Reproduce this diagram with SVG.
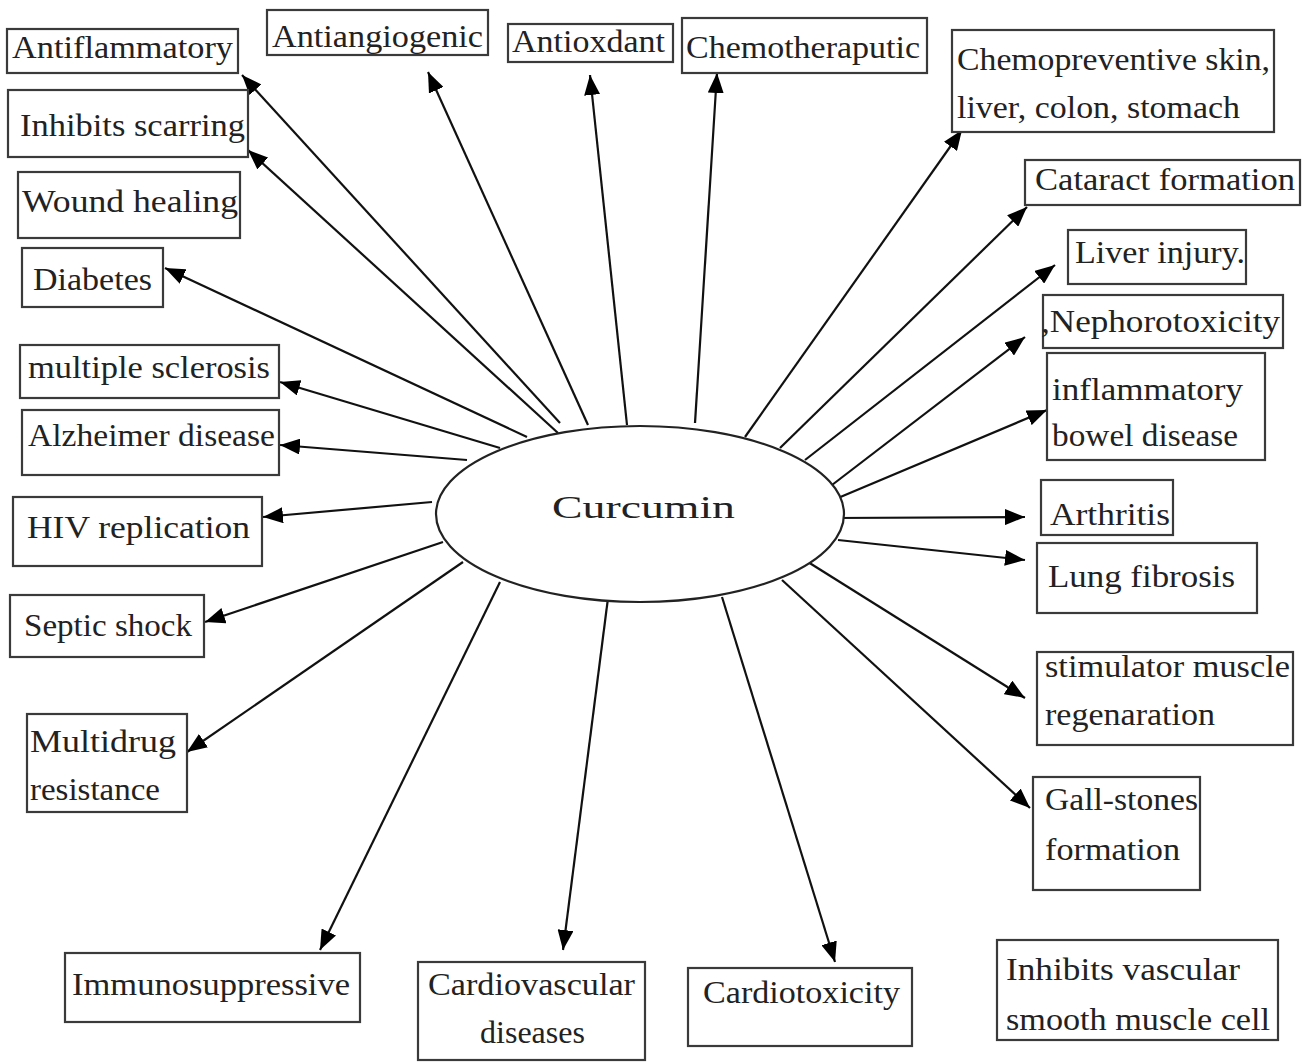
<svg xmlns="http://www.w3.org/2000/svg" width="1304" height="1063" viewBox="0 0 1304 1063">
<style>
.box{fill:#fff;stroke:#3a3a3a;stroke-width:2.2}
.t{font-family:"Liberation Serif","DejaVu Serif",serif;font-size:31px;fill:#222}
.c{stroke:#111;stroke-width:2.2;fill:none;marker-end:url(#ah)}
</style>
<defs>
<marker id="ah" markerUnits="userSpaceOnUse" markerWidth="20" markerHeight="16" refX="20" refY="8" orient="auto">
<path d="M0,0 L20,8 L0,16 z" fill="#000"/>
</marker>
</defs>
<rect width="1304" height="1063" fill="#fff"/>
<g id="connectors">
<line class="c" x1="560" y1="423" x2="242" y2="75"/>
<line class="c" x1="558" y1="433" x2="248" y2="150"/>
<line class="c" x1="588" y1="425" x2="428" y2="72"/>
<line class="c" x1="627" y1="425" x2="590" y2="75"/>
<line class="c" x1="695" y1="423" x2="717" y2="73"/>
<line class="c" x1="745" y1="437" x2="962" y2="130"/>
<line class="c" x1="780" y1="448" x2="1027" y2="207"/>
<line class="c" x1="805" y1="460" x2="1055" y2="265"/>
<line class="c" x1="832" y1="485" x2="1025" y2="337"/>
<line class="c" x1="838" y1="498" x2="1047" y2="410"/>
<line class="c" x1="833" y1="518" x2="1025" y2="517"/>
<line class="c" x1="838" y1="540" x2="1025" y2="560"/>
<line class="c" x1="808" y1="562" x2="1025" y2="698"/>
<line class="c" x1="782" y1="580" x2="1030" y2="808"/>
<line class="c" x1="722" y1="597" x2="835" y2="962"/>
<line class="c" x1="608" y1="598" x2="563" y2="950"/>
<line class="c" x1="500" y1="582" x2="320" y2="950"/>
<line class="c" x1="463" y1="562" x2="187" y2="752"/>
<line class="c" x1="443" y1="542" x2="205" y2="622"/>
<line class="c" x1="432" y1="502" x2="263" y2="517"/>
<line class="c" x1="467" y1="460" x2="280" y2="445"/>
<line class="c" x1="500" y1="448" x2="280" y2="382"/>
<line class="c" x1="527" y1="437" x2="165" y2="268"/>
</g>
<g id="curcumin">
<ellipse cx="640" cy="514" rx="204" ry="88" fill="#fff" stroke="#222" stroke-width="2.2"/>
<text class="t" x="552" y="518" font-size="41" textLength="183" lengthAdjust="spacingAndGlyphs">Curcumin</text>
</g>
<g id="antiflammatory"><rect class="box" x="7" y="29" width="231" height="44"/><text class="t" x="12" y="58" textLength="221" lengthAdjust="spacingAndGlyphs">Antiflammatory</text></g>
<g id="inhibits-scarring"><rect class="box" x="8" y="90" width="240" height="67"/><text class="t" x="20" y="136" textLength="225" lengthAdjust="spacingAndGlyphs">Inhibits scarring</text></g>
<g id="wound-healing"><rect class="box" x="18" y="172" width="222" height="66"/><text class="t" x="22" y="212" textLength="216" lengthAdjust="spacingAndGlyphs">Wound healing</text></g>
<g id="diabetes"><rect class="box" x="22" y="248" width="141" height="59"/><text class="t" x="33" y="290" textLength="119" lengthAdjust="spacingAndGlyphs">Diabetes</text></g>
<g id="multiple-sclerosis"><rect class="box" x="20" y="345" width="259" height="53"/><text class="t" x="28" y="378" textLength="242" lengthAdjust="spacingAndGlyphs">multiple sclerosis</text></g>
<g id="alzheimer"><rect class="box" x="22" y="410" width="257" height="65"/><text class="t" x="28" y="446" textLength="247" lengthAdjust="spacingAndGlyphs">Alzheimer disease</text></g>
<g id="hiv"><rect class="box" x="13" y="497" width="249" height="69"/><text class="t" x="27" y="538" textLength="223" lengthAdjust="spacingAndGlyphs">HIV replication</text></g>
<g id="septic-shock"><rect class="box" x="10" y="595" width="194" height="62"/><text class="t" x="24" y="636" textLength="168" lengthAdjust="spacingAndGlyphs">Septic shock</text></g>
<g id="multidrug"><rect class="box" x="27" y="714" width="160" height="98"/><text class="t" x="30" y="752" textLength="146" lengthAdjust="spacingAndGlyphs">Multidrug</text><text class="t" x="30" y="800" textLength="130" lengthAdjust="spacingAndGlyphs">resistance</text></g>
<g id="immunosuppressive"><rect class="box" x="65" y="953" width="295" height="69"/><text class="t" x="72" y="995" textLength="278" lengthAdjust="spacingAndGlyphs">Immunosuppressive</text></g>
<g id="cardiovascular"><rect class="box" x="418" y="962" width="227" height="98"/><text class="t" x="428" y="995" textLength="207" lengthAdjust="spacingAndGlyphs">Cardiovascular</text><text class="t" x="480" y="1043" textLength="105" lengthAdjust="spacingAndGlyphs">diseases</text></g>
<g id="cardiotoxicity"><rect class="box" x="688" y="968" width="224" height="78"/><text class="t" x="703" y="1003" textLength="197" lengthAdjust="spacingAndGlyphs">Cardiotoxicity</text></g>
<g id="vascular"><rect class="box" x="997" y="940" width="281" height="100"/><text class="t" x="1006" y="980" textLength="234" lengthAdjust="spacingAndGlyphs">Inhibits vascular</text><text class="t" x="1006" y="1030" textLength="264" lengthAdjust="spacingAndGlyphs">smooth muscle cell</text></g>
<g id="gall-stones"><rect class="box" x="1033" y="777" width="167" height="113"/><text class="t" x="1045" y="810" textLength="153" lengthAdjust="spacingAndGlyphs">Gall-stones</text><text class="t" x="1045" y="860" textLength="135" lengthAdjust="spacingAndGlyphs">formation</text></g>
<g id="muscle-regeneration"><rect class="box" x="1037" y="652" width="256" height="93"/><text class="t" x="1045" y="677" textLength="245" lengthAdjust="spacingAndGlyphs">stimulator muscle</text><text class="t" x="1045" y="725" textLength="170" lengthAdjust="spacingAndGlyphs">regenaration</text></g>
<g id="lung-fibrosis"><rect class="box" x="1037" y="543" width="220" height="70"/><text class="t" x="1048" y="587" textLength="187" lengthAdjust="spacingAndGlyphs">Lung fibrosis</text></g>
<g id="arthritis"><rect class="box" x="1041" y="480" width="132" height="55"/><text class="t" x="1050" y="525" textLength="120" lengthAdjust="spacingAndGlyphs">Arthritis</text></g>
<g id="ibd"><rect class="box" x="1047" y="353" width="218" height="107"/><text class="t" x="1052" y="400" textLength="191" lengthAdjust="spacingAndGlyphs">inflammatory</text><text class="t" x="1052" y="446" textLength="186" lengthAdjust="spacingAndGlyphs">bowel disease</text></g>
<g id="nephrotoxicity"><rect class="box" x="1043" y="295" width="240" height="53"/><text class="t" x="1041" y="332" textLength="239" lengthAdjust="spacingAndGlyphs">,Nephorotoxicity</text></g>
<g id="liver-injury"><rect class="box" x="1068" y="230" width="178" height="54"/><text class="t" x="1075" y="263" textLength="170" lengthAdjust="spacingAndGlyphs">Liver injury.</text></g>
<g id="cataract"><rect class="box" x="1025" y="160" width="275" height="45"/><text class="t" x="1035" y="190" textLength="260" lengthAdjust="spacingAndGlyphs">Cataract formation</text></g>
<g id="chemopreventive"><rect class="box" x="952" y="30" width="322" height="102"/><text class="t" x="957" y="70" textLength="313" lengthAdjust="spacingAndGlyphs">Chemopreventive skin,</text><text class="t" x="957" y="118" textLength="283" lengthAdjust="spacingAndGlyphs">liver, colon, stomach</text></g>
<g id="chemotheraputic"><rect class="box" x="682" y="18" width="245" height="55"/><text class="t" x="686" y="58" textLength="234" lengthAdjust="spacingAndGlyphs">Chemotheraputic</text></g>
<g id="antioxdant"><rect class="box" x="508" y="24" width="165" height="38"/><text class="t" x="512" y="52" textLength="153" lengthAdjust="spacingAndGlyphs">Antioxdant</text></g>
<g id="antiangiogenic"><rect class="box" x="267" y="10" width="221" height="45"/><text class="t" x="272" y="47" textLength="211" lengthAdjust="spacingAndGlyphs">Antiangiogenic</text></g>
</svg>
